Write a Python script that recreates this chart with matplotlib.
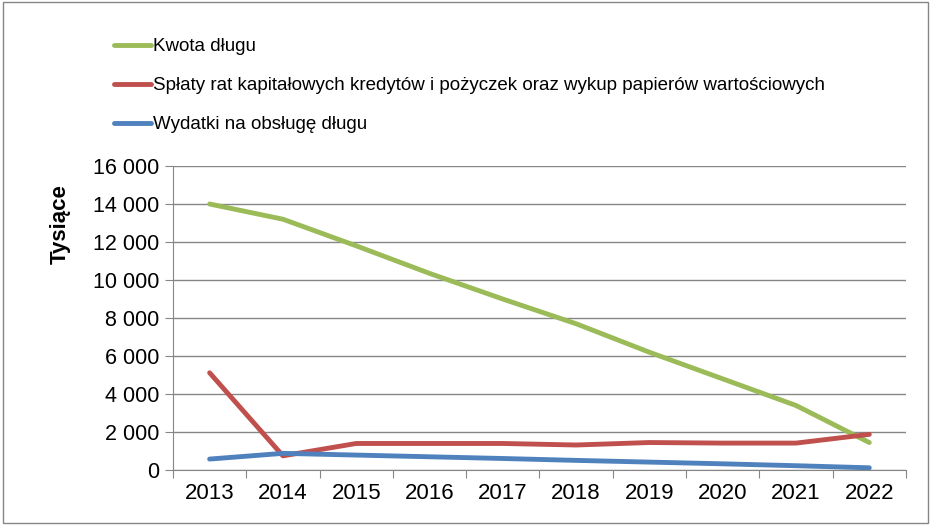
import matplotlib.pyplot as plt
import numpy as np

years = ['2013', '2014', '2015', '2016', '2017', '2018', '2019', '2020', '2021', '2022']
kwota = [14000, 13200, 11800, 10350, 9000, 7700, 6200, 4800, 3400, 1450]
splaty = [5120, 750, 1400, 1400, 1400, 1320, 1450, 1420, 1420, 1880]
wydatki = [580, 880, 790, 700, 610, 510, 420, 330, 230, 120]

labels = ['Kwota długu',
          'Spłaty rat kapitałowych kredytów i pożyczek oraz wykup papierów wartościowych',
          'Wydatki na obsługę długu']
colors = ['#9BBB59', '#C0504D', '#4F81BD']

plt.rcParams['font.family'] = ['Liberation Sans', 'DejaVu Sans']

fig = plt.figure(figsize=(9.33, 5.27), dpi=100)
ax = fig.add_axes([0.1854, 0.108, 0.7856, 0.577])

x = np.arange(len(years))
lines = []
for vals, col, lab in zip([kwota, splaty, wydatki], colors, labels):
    ln, = ax.plot(x, vals, color=col, lw=3.5, solid_capstyle='round', label=lab)
    lines.append(ln)

ax.set_xlim(-0.5, len(years) - 0.5)
ax.set_ylim(0, 16000)
ax.set_yticks(np.arange(0, 16001, 2000))
ax.set_yticklabels([f'{v:,}'.replace(',', ' ') for v in range(0, 16001, 2000)], fontsize=15.5)
ax.set_xticks(np.arange(-0.5, len(years), 1))
ax.set_xticklabels([])
ax.set_xticks(x, minor=True)
ax.set_xticklabels(years, minor=True, fontsize=16)
ax.tick_params(axis='x', which='minor', length=0, pad=9)
ax.tick_params(axis='x', which='major', length=6, color='#868686')
ax.tick_params(axis='y', length=6, color='#868686', pad=4)

ax.grid(axis='y', color='#868686', lw=1)
ax.set_axisbelow(True)
for s in ['top', 'right']:
    ax.spines[s].set_visible(False)
for s in ['left', 'bottom']:
    ax.spines[s].set_color('#868686')
ax.set_ylabel('Tysiące', fontsize=16, fontweight='bold')
ax.yaxis.set_label_coords(-0.14, 0.81)

fig.legend(handles=lines, loc='upper left', bbox_to_anchor=(0.104, 0.96),
           frameon=False, fontsize=13.5, handlelength=2.0, handletextpad=0.1,
           labelspacing=1.17)

border = plt.Rectangle((0.003, 0.008), 0.992, 0.988, transform=fig.transFigure,
                       fill=False, edgecolor='#868686', lw=1)
fig.patches.append(border)

fig.savefig('out.png', dpi=100)
